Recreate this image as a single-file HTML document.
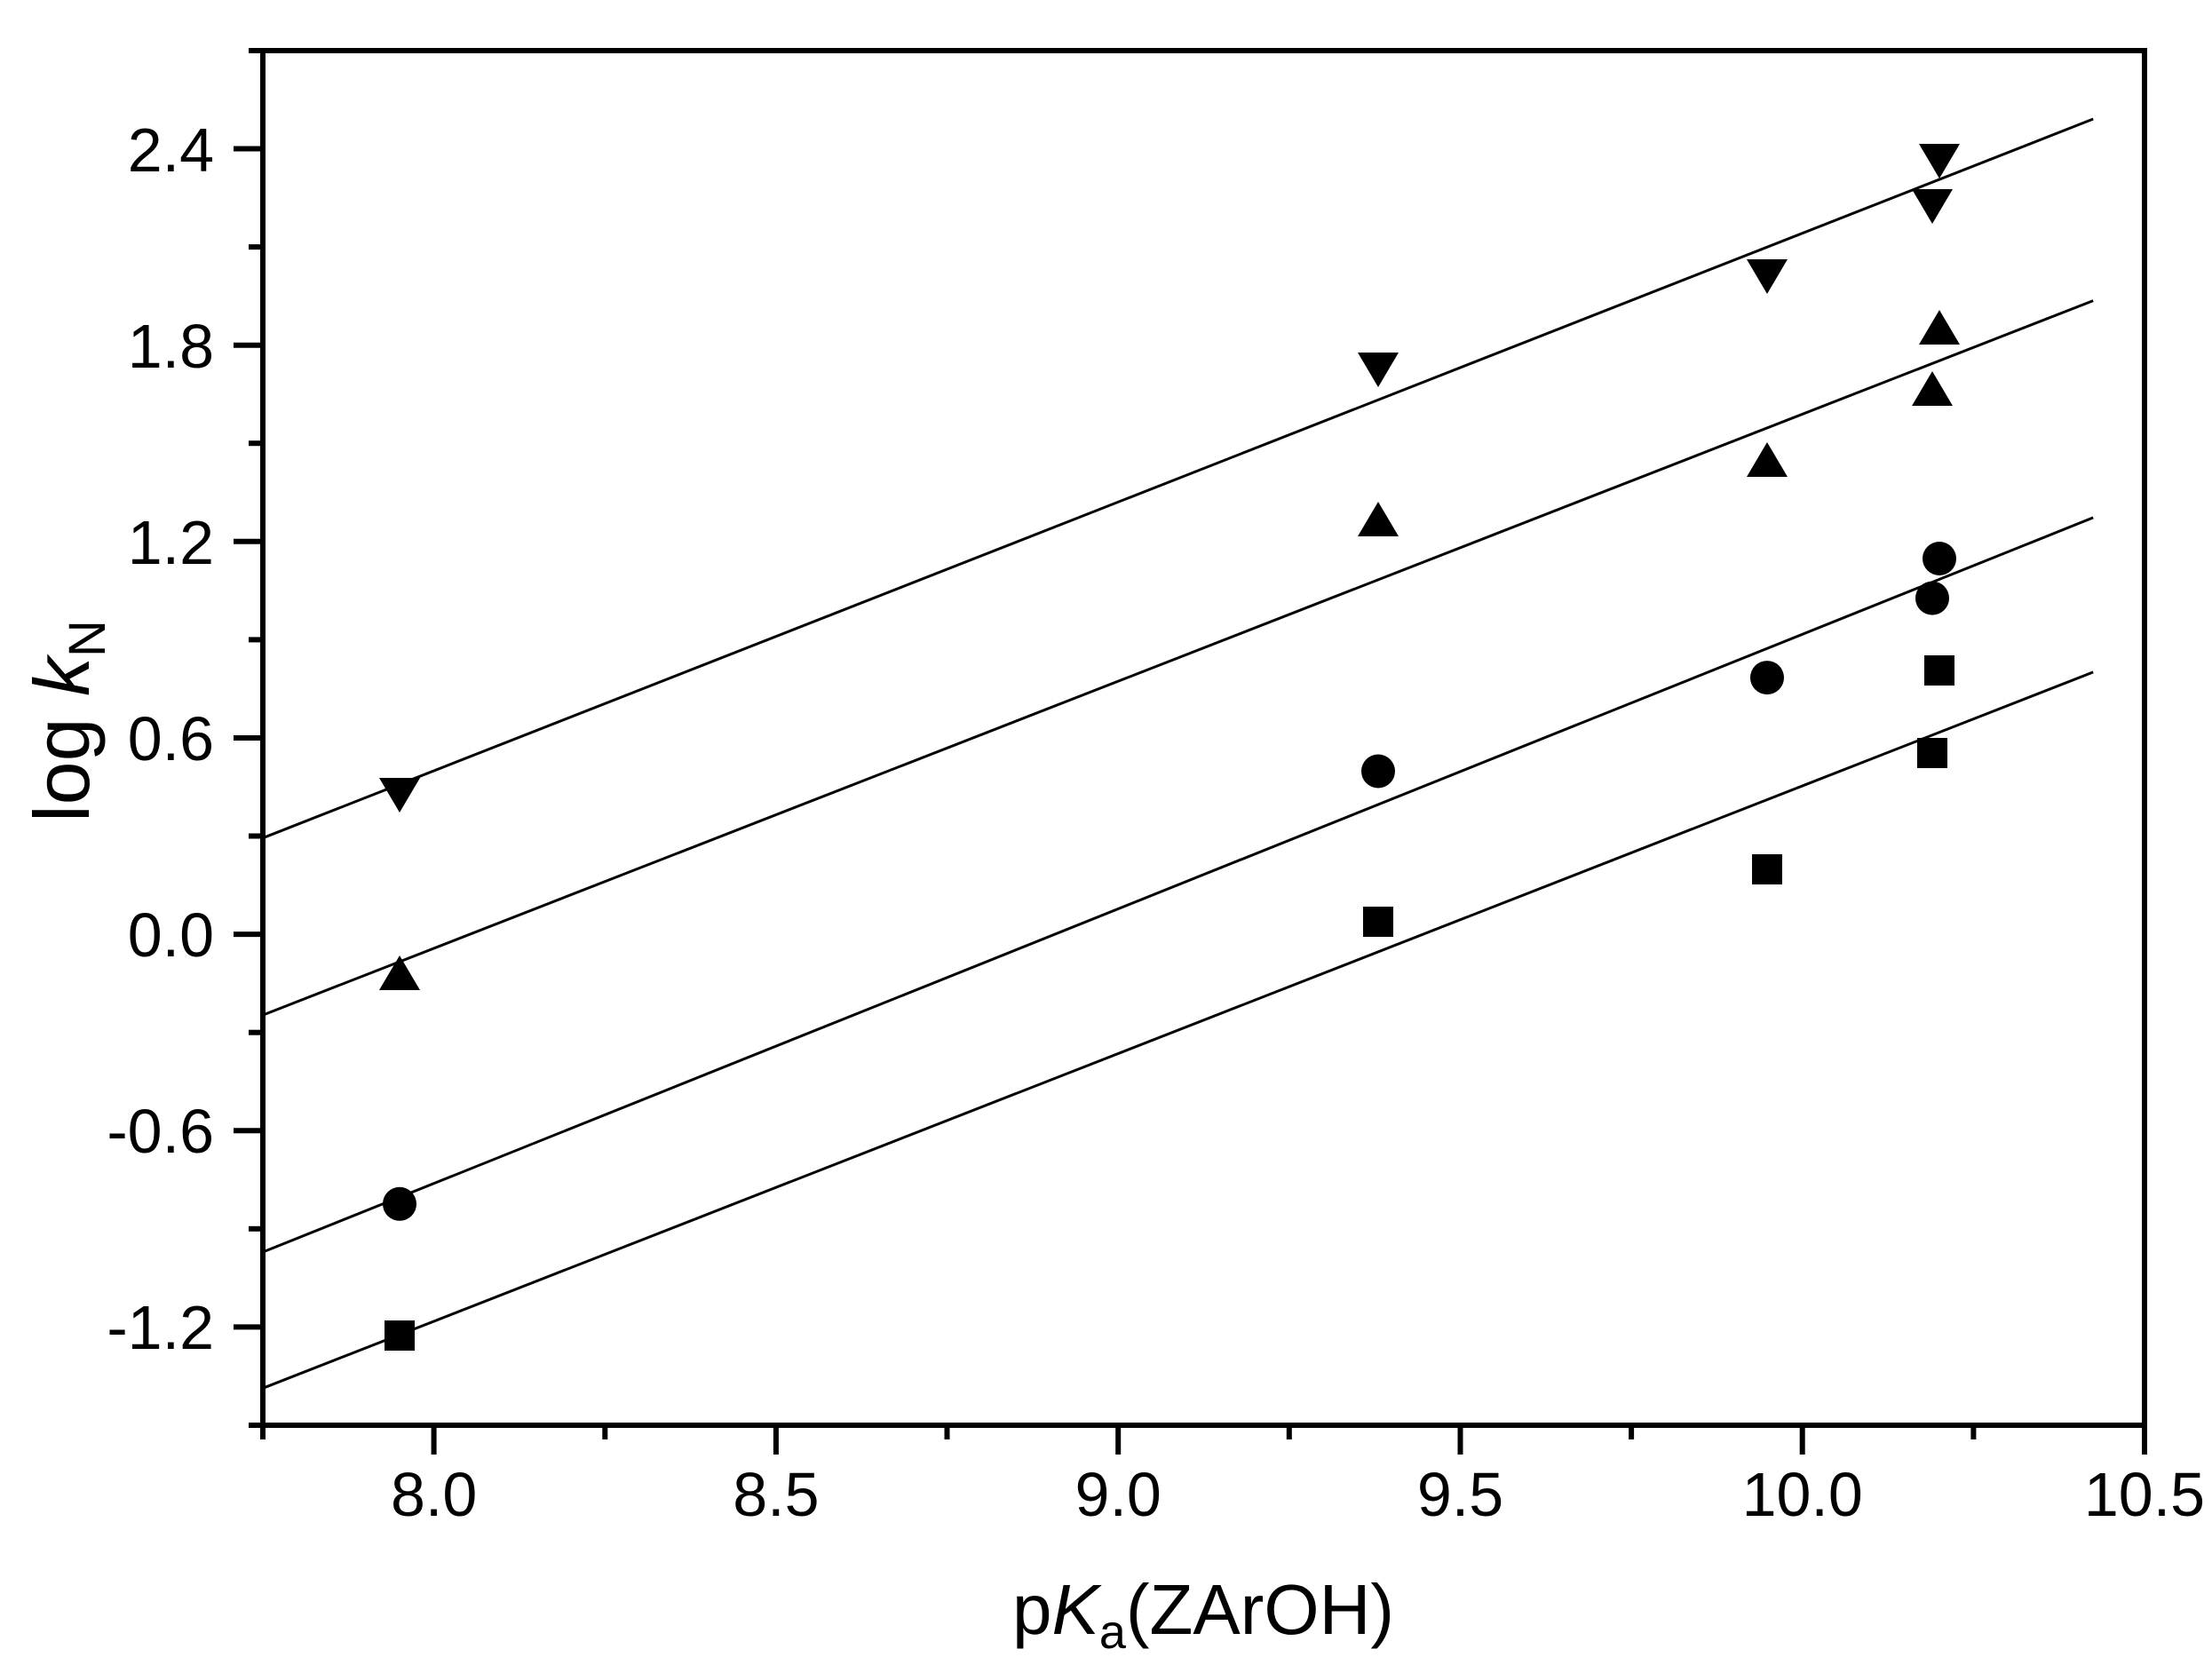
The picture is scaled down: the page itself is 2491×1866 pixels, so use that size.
<!DOCTYPE html>
<html><head><meta charset="utf-8"><style>
html,body{margin:0;padding:0;background:#fff;}
svg{display:block;}
text{font-family:"Liberation Sans",Arial,sans-serif;fill:#000;}
</style></head><body>
<svg width="2491" height="1866" viewBox="0 0 2491 1866" xmlns="http://www.w3.org/2000/svg">
<g stroke="#000" stroke-width="3">
<line x1="296" y1="943.7" x2="2357.2" y2="134"/>
<line x1="296" y1="1143.1" x2="2357.2" y2="338.6"/>
<line x1="296" y1="1410" x2="2357.2" y2="582.9"/>
<line x1="296" y1="1563.3" x2="2357.2" y2="756.9"/>
</g>
<g fill="#000">
<polygon points="427,876 473,876 450,915"/>
<polygon points="1529,397 1575,397 1552,436"/>
<polygon points="1967,292 2013,292 1990,331"/>
<polygon points="2153,213 2199,213 2176,252"/>
<polygon points="2161,162 2207,162 2184,201"/>
<polygon points="427,1115 473,1115 450,1076"/>
<polygon points="1529,604 1575,604 1552,565"/>
<polygon points="1967,537 2013,537 1990,498"/>
<polygon points="2153,457 2199,457 2176,418"/>
<polygon points="2161,388 2207,388 2184,349"/>
<circle cx="450" cy="1355.8" r="19"/>
<circle cx="1552" cy="868.5" r="19"/>
<circle cx="1990" cy="763.1" r="19"/>
<circle cx="2176" cy="673.6" r="19"/>
<circle cx="2184" cy="629" r="19"/>
<rect x="433" y="1487" width="34" height="34"/>
<rect x="1535" y="1021" width="34" height="34"/>
<rect x="1973" y="962" width="34" height="34"/>
<rect x="2159" y="831" width="34" height="34"/>
<rect x="2167" y="738" width="34" height="34"/>
</g>
<rect x="296" y="57" width="2119" height="1548" fill="none" stroke="#000" stroke-width="6"/>
<g stroke="#000" stroke-width="6">
<line x1="296" y1="1605" x2="296" y2="1621"/>
<line x1="488.6" y1="1605" x2="488.6" y2="1638"/>
<line x1="681.3" y1="1605" x2="681.3" y2="1621"/>
<line x1="873.9" y1="1605" x2="873.9" y2="1638"/>
<line x1="1066.5" y1="1605" x2="1066.5" y2="1621"/>
<line x1="1259.2" y1="1605" x2="1259.2" y2="1638"/>
<line x1="1451.8" y1="1605" x2="1451.8" y2="1621"/>
<line x1="1644.5" y1="1605" x2="1644.5" y2="1638"/>
<line x1="1837.1" y1="1605" x2="1837.1" y2="1621"/>
<line x1="2029.7" y1="1605" x2="2029.7" y2="1638"/>
<line x1="2222.4" y1="1605" x2="2222.4" y2="1621"/>
<line x1="2415" y1="1605" x2="2415" y2="1638"/>
<line x1="296" y1="1605" x2="280" y2="1605"/>
<line x1="296" y1="1494.4" x2="263" y2="1494.4"/>
<line x1="296" y1="1383.8" x2="280" y2="1383.8"/>
<line x1="296" y1="1273.2" x2="263" y2="1273.2"/>
<line x1="296" y1="1162.7" x2="280" y2="1162.7"/>
<line x1="296" y1="1052.1" x2="263" y2="1052.1"/>
<line x1="296" y1="941.5" x2="280" y2="941.5"/>
<line x1="296" y1="831" x2="263" y2="831"/>
<line x1="296" y1="720.4" x2="280" y2="720.4"/>
<line x1="296" y1="609.8" x2="263" y2="609.8"/>
<line x1="296" y1="499.2" x2="280" y2="499.2"/>
<line x1="296" y1="388.7" x2="263" y2="388.7"/>
<line x1="296" y1="278.1" x2="280" y2="278.1"/>
<line x1="296" y1="167.5" x2="263" y2="167.5"/>
<line x1="296" y1="57" x2="280" y2="57"/>
</g>
<g font-size="70" text-anchor="middle">
<text x="488.6" y="1707">8.0</text>
<text x="873.9" y="1707">8.5</text>
<text x="1259.2" y="1707">9.0</text>
<text x="1644.5" y="1707">9.5</text>
<text x="2029.7" y="1707">10.0</text>
<text x="2415" y="1707">10.5</text>
</g>
<g font-size="70" text-anchor="end">
<text x="241" y="1519">-1.2</text>
<text x="241" y="1298">-0.6</text>
<text x="241" y="1077">0.0</text>
<text x="241" y="856">0.6</text>
<text x="241" y="635">1.2</text>
<text x="241" y="414">1.8</text>
<text x="241" y="193">2.4</text>
</g>
<text x="1355" y="1840" font-size="80" text-anchor="middle">p<tspan font-style="italic">K</tspan><tspan font-size="54" dy="16">a</tspan><tspan dy="-16">(ZArOH)</tspan></text>
<text transform="translate(100,812) rotate(-90)" font-size="88" text-anchor="middle">log <tspan font-style="italic">k</tspan><tspan font-size="58" dy="18">N</tspan></text>
</svg>
</body></html>
